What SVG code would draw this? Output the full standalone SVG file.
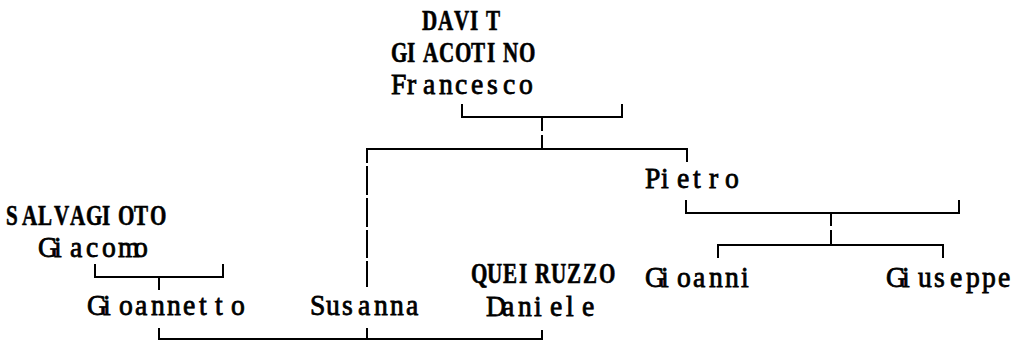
<svg xmlns="http://www.w3.org/2000/svg" width="1016" height="342" viewBox="0 0 1016 342">
<style>
.bg{fill:#ffffff}
.n{font-family:"Liberation Serif","DejaVu Serif",serif;font-size:28.5px;fill:#000;stroke:#000;stroke-width:0.8px}
.u{font-family:"Liberation Serif","DejaVu Serif",serif;font-size:28.5px;font-weight:bold;fill:#000;stroke:#000;stroke-width:0.6px}
.c path{fill:none;stroke:#000;stroke-width:2;stroke-linecap:butt}
</style>
<rect class="bg" x="0" y="0" width="1016" height="342"/>
<g id="davit-giacotino-francesco">
<text class="u" transform="translate(422,30) scale(0.74,1)" x="0 21.62 43.24 64.86 86.49" y="0">DAVIT</text>
<text class="u" transform="translate(391,62) scale(0.74,1)" x="0 21.62 43.24 64.86 86.49 108.11 129.73 151.35 172.97" y="0">GIACOTINO</text>
<text class="n" transform="translate(391,94) scale(0.97,1)" x="0 16.49 32.99 49.48 65.98 82.47 98.97 115.46 131.96" y="0">Francesco</text>
</g>
<g id="pietro">
<text class="n" transform="translate(645,188) scale(0.97,1)" x="0 16.49 32.99 49.48 65.98 82.47" y="0">Pietro</text>
</g>
<g id="salvagioto-giacomo">
<text class="u" transform="translate(6,225) scale(0.74,1)" x="0 21.62 43.24 64.86 86.49 108.11 129.73 151.35 172.97 194.59" y="0">SALVAGIOTO</text>
<text class="n" transform="translate(38,257) scale(0.97,1)" x="0 16.49 32.99 49.48 65.98 82.47 98.97" y="0">Giacomo</text>
</g>
<g id="queiruzzo-daniele">
<text class="u" transform="translate(471,283) scale(0.74,1)" x="0 21.62 43.24 64.86 86.49 108.11 129.73 151.35 172.97" y="0">QUEIRUZZO</text>
<text class="n" transform="translate(486,316) scale(0.97,1)" x="0 16.49 32.99 49.48 65.98 82.47 98.97" y="0">Daniele</text>
</g>
<g id="gioanni">
<text class="n" transform="translate(645,287) scale(0.97,1)" x="0 16.49 32.99 49.48 65.98 82.47 98.97" y="0">Gioanni</text>
</g>
<g id="giuseppe">
<text class="n" transform="translate(886,287) scale(0.97,1)" x="0 16.49 32.99 49.48 65.98 82.47 98.97 115.46" y="0">Giuseppe</text>
</g>
<g id="gioannetto">
<text class="n" transform="translate(87,315) scale(0.97,1)" x="0 16.49 32.99 49.48 65.98 82.47 98.97 115.46 131.96 148.45" y="0">Gioannetto</text>
</g>
<g id="susanna">
<text class="n" transform="translate(310,315) scale(0.97,1)" x="0 16.49 32.99 49.48 65.98 82.47 98.97" y="0">Susanna</text>
</g>
<g id="connectors" class="c">
<path d="M462,104 V117 H622 V104"/>
<path d="M542,117 V131 M542,135 V149"/>
<path d="M367,163 V149 H687 V162"/>
<path d="M367,166 V195 M367,198 V227 M367,230 V258 M367,261 V287"/>
<path d="M686,200 V213 H959 V200"/>
<path d="M831,213 V226 M831,230 V245"/>
<path d="M718,258 V245 H943 V258"/>
<path d="M95,264 V277 H223 V264"/>
<path d="M159,277 V290"/>
<path d="M159,328 V339 H542 V330"/>
<path d="M367,328 V339"/>
</g>
</svg>
